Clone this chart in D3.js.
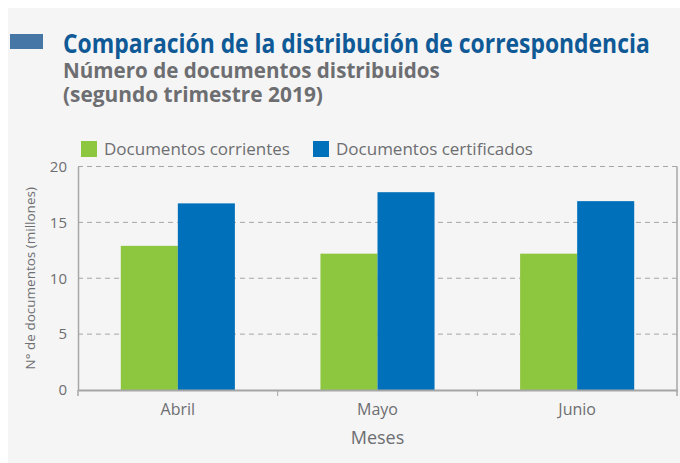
<!DOCTYPE html>
<html>
<head>
<meta charset="utf-8">
<script src="https://cdn.jsdelivr.net/npm/d3@7"></script>
<style>
  body { margin: 0; background: #ffffff; }
  text { font-family: "Open Sans", "Noto Sans", sans-serif; }
</style>
</head>
<body>
<div id="main"></div>
<script>
const ctx = {
    w: 680,
    h: 463
};

// data
const months = ["Abril", "Mayo", "Junio"];
const seriesNames = ["Documentos corrientes", "Documentos certificados"];
const corrientes = [12.9, 12.2, 12.2];
const certificados = [16.7, 17.7, 16.9];
const yTicks = [0, 5, 10, 15, 20];
const colors = ["#8dc63f", "#0070ba"];

// no condensed font installed: squeeze a line horizontally to the original width
function condensed(sel, x, y, width) {
    const natural = sel.node().getComputedTextLength();
    sel.attr("transform", `translate(${x},${y}) scale(${width / natural},1)`);
}

function createViz() {
    const svg = d3.select("#main").append("svg")
        .attr("width", ctx.w)
        .attr("height", ctx.h);

    svg.append("rect")
        .attr("x", 8).attr("y", 8)
        .attr("width", ctx.w - 8).attr("height", ctx.h - 8)
        .attr("fill", "#f5f5f5");

    // title block
    svg.append("rect")
        .attr("x", 10).attr("y", 34)
        .attr("width", 33).attr("height", 15)
        .attr("fill", "#4676a6");

    svg.append("text")
        .attr("font-weight", "bold")
        .attr("font-size", "26px")
        .attr("fill", "#0f5a96")
        .text("Comparación de la distribución de correspondencia")
        .call(condensed, 63, 53, 587);

    svg.append("text")
        .attr("font-weight", "bold")
        .attr("font-size", "21px")
        .attr("fill", "#6d6e71")
        .text("Número de documentos distribuidos")
        .call(condensed, 63, 78, 377);

    svg.append("text")
        .attr("font-weight", "bold")
        .attr("font-size", "21px")
        .attr("fill", "#6d6e71")
        .text("(segundo trimestre 2019)")
        .call(condensed, 63, 102, 260);

    const margin = { top: 166.5, right: 3, bottom: 73, left: 78 };
    const innerW = ctx.w - margin.left - margin.right;

    const x = d3.scaleBand()
        .domain(months)
        .range([margin.left, ctx.w - margin.right])
        .padding(0);

    const x1 = d3.scaleBand()
        .domain(seriesNames)
        .range([0, x.bandwidth()])
        .paddingInner(0)
        .paddingOuter(0.75);

    const y = d3.scaleLinear()
        .domain([0, 20])
        .range([ctx.h - margin.bottom, margin.top]);

    // dashed grid
    svg.append("g")
        .selectAll("line")
        .data(yTicks.filter(d => d > 0))
        .enter().append("line")
        .attr("x1", margin.left)
        .attr("x2", ctx.w - margin.right)
        .attr("y1", d => y(d))
        .attr("y2", d => y(d))
        .attr("stroke", "#a6a6a6")
        .attr("stroke-width", 1)
        .attr("stroke-dasharray", "5,4");

    // bars
    const data = months.map((m, i) => ({ month: m, values: [corrientes[i], certificados[i]] }));
    svg.append("g")
        .selectAll("g")
        .data(data)
        .enter().append("g")
        .attr("transform", d => `translate(${x(d.month)},0)`)
        .selectAll("rect")
        .data(d => d.values.map((v, j) => ({ name: seriesNames[j], value: v, j: j })))
        .enter().append("rect")
        .attr("x", d => x1(d.name))
        .attr("y", d => y(d.value))
        .attr("width", x1.bandwidth())
        .attr("height", d => y(0) - y(d.value))
        .attr("fill", d => colors[d.j]);

    // y axis
    const yAxis = svg.append("g")
        .attr("transform", `translate(${margin.left},0)`)
        .call(d3.axisLeft(y).tickValues(yTicks).tickSize(0).tickPadding(11));
    yAxis.select(".domain").attr("stroke", "#a6a6a6").attr("stroke-width", 1.5);
    yAxis.selectAll("text")
        .attr("font-family", "'Open Sans', sans-serif")
        .attr("font-size", "15px")
        .attr("fill", "#6d6e71");

    // right border
    svg.append("line")
        .attr("x1", ctx.w - margin.right).attr("x2", ctx.w - margin.right)
        .attr("y1", y(20)).attr("y2", y(0) + 6)
        .attr("stroke", "#a6a6a6").attr("stroke-width", 1.5);

    // x axis
    const xAxis = svg.append("g")
        .attr("transform", `translate(0,${y(0)})`)
        .call(d3.axisBottom(x).tickSize(0).tickPadding(14));
    xAxis.select(".domain").attr("stroke", "#a6a6a6").attr("stroke-width", 2);
    xAxis.selectAll("text")
        .attr("font-family", "'Open Sans', sans-serif")
        .attr("font-size", "16px")
        .attr("fill", "#6d6e71");

    // tick marks at band boundaries
    svg.append("g")
        .selectAll("line")
        .data(months.slice(1))
        .enter().append("line")
        .attr("x1", d => x(d))
        .attr("x2", d => x(d))
        .attr("y1", y(0))
        .attr("y2", y(0) + 6)
        .attr("stroke", "#a6a6a6")
        .attr("stroke-width", 1);
    svg.append("line")
        .attr("x1", margin.left).attr("x2", margin.left)
        .attr("y1", y(0)).attr("y2", y(0) + 6)
        .attr("stroke", "#a6a6a6").attr("stroke-width", 1.5);

    // axis titles
    svg.append("text")
        .attr("x", margin.left + innerW / 2)
        .attr("y", 444)
        .attr("text-anchor", "middle")
        .attr("font-size", "18px")
        .attr("fill", "#6d6e71")
        .text("Meses");

    svg.append("text")
        .attr("transform", `translate(35,${(y(0) + y(20)) / 2}) rotate(-90)`)
        .attr("text-anchor", "middle")
        .attr("font-size", "13.5px")
        .attr("fill", "#6d6e71")
        .text("N° de documentos (millones)");

    // legend
    const legendX = [81, 313];
    const legend = svg.append("g")
        .selectAll("g")
        .data(seriesNames)
        .enter().append("g")
        .attr("transform", (d, i) => `translate(${legendX[i]},141)`);

    legend.append("rect")
        .attr("width", 16)
        .attr("height", 16)
        .attr("fill", (d, i) => colors[i]);

    legend.append("text")
        .attr("x", 23)
        .attr("y", 14)
        .attr("font-size", "17px")
        .attr("fill", "#6d6e71")
        .text(d => d);
}

createViz();
</script>
</body>
</html>
